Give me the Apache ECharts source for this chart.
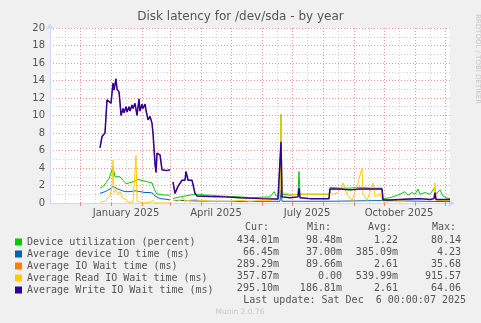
<!DOCTYPE html>
<html><head><meta charset="utf-8">
<script src="https://cdn.jsdelivr.net/npm/echarts@6/dist/echarts.min.js"></script>
<style>html,body{margin:0;padding:0;background:#f0f0f0}#c{width:481px;height:323px}</style>
</head><body><div id="c"></div>
<script>
// x values are days since 2024-11-01 (plot spans 400 days, ending 2025-12-06)
const seriesNames = ['Device utilization (percent)','Average device IO time (ms)','Average IO Wait time (ms)','Average Read IO Wait time (ms)','Average Write IO Wait time (ms)'];
const seriesColors = ['#00CC00','#0066B3','#FF8000','#FFCC00','#330099'];

const utilDays = [50,53,56,59,61,63,65,67,70,73,76,78,82,85,88,91,93,95,98,102,105,107,110,115,120,121,123,126,130,135,140,145,150,155,160,170,180,190,200,210,220,224,226,229,230,231,232,240,248,249,250,260,270,279,280,290,300,310,320,332,333,340,345,350,355,358,362,365,368,370,375,380,385,386,390,393,396,400];
const utilVals = [1.7,1.9,2.3,2.8,3.0,4.1,3.0,3.1,3.0,2.6,2.2,2.4,2.4,2.5,2.7,2.6,2.6,2.5,2.4,2.3,1.4,1.0,1.0,0.9,0.9,null,0.5,0.6,0.7,0.8,0.9,1.0,1.0,0.9,0.9,0.8,0.75,0.7,0.6,0.65,0.7,1.3,0.8,0.9,1.5,10.1,1.0,0.9,1.0,3.6,1.0,1.0,1.0,1.0,1.8,1.7,1.7,1.8,1.7,1.7,0.5,0.6,0.8,1.0,1.3,0.9,1.2,1.0,1.6,1.0,1.2,1.0,1.8,1.0,1.5,0.8,0.6,0.5];

const devDays = [50,55,60,63,66,70,75,80,85,90,95,100,103,105,107,110,115,120,121,123,130,140,160,200,230,231,232,280,281,332,333,400];
const devVals = [1.1,1.3,1.6,1.9,1.7,1.5,1.3,1.3,1.4,1.3,1.2,1.2,1.1,0.8,0.65,0.5,0.45,0.35,null,0.3,0.3,0.25,0.2,0.18,0.2,1.5,0.2,0.2,0.28,0.28,0.15,0.15];

const waitDays = [50,52,55,57,59,61,63,64,66,67,69,70,71,73,74,76,77,79,80,82,83,85,86,87,89,90,92,93,95,96,98,100,102,103,105,106,107,109,110,112,114,117,119,120,121,123,125,128,130,132,135,136,138,140,142,143,145,147,160,175,190,210,228,230,231,232,240,248,249,250,260,279,280,290,300,310,320,332,333,340,350,360,370,380,384,385,386,395,400];
const waitVals = [6.3,7.5,8.0,11.8,11.9,11.4,13.7,12.9,14.2,13.0,12.7,11.5,10.0,10.8,10.3,11.0,10.4,11.0,10.5,11.2,10.8,11.4,11.6,10.0,11.9,10.5,11.3,10.8,11.3,10.6,9.5,9.9,9.2,8.0,4.5,3.5,5.7,5.6,5.5,3.8,3.6,3.7,3.6,3.8,null,2.4,1.1,1.9,2.1,2.6,2.6,3.6,2.6,2.8,2.6,2.4,1.1,0.8,0.75,0.7,0.6,0.5,0.45,0.6,7.0,0.7,0.6,0.7,1.7,0.6,0.5,0.5,1.6,1.6,1.5,1.6,1.6,1.6,0.35,0.35,0.4,0.45,0.5,0.4,0.5,1.2,0.4,0.4,0.4];

const readDays = [50,55,60,62,63,64,66,68,70,72,74,76,78,80,83,85,86,87,90,92,95,100,103,105,110,120,121,123,125,127,130,133,135,138,140,145,150,160,170,180,190,200,210,220,225,228,230,231,232,240,248,249,250,260,270,279,280,283,288,292,293,297,302,307,312,313,317,322,323,325,330,333,336,340,350,360,370,380,384,385,386,395,400];
const readVals = [0.1,0.2,0.8,2.0,4.9,1.2,1.5,1.0,1.3,0.6,0.8,0.4,0.1,0.0,0.1,0.2,5.4,0.2,0.1,0.2,0.0,0.1,0.3,0.0,0.0,0.0,null,0.3,0.5,0.2,0.3,0.6,0.2,0.3,0.1,0.4,0.3,0.2,0.2,0.2,0.3,0.2,0.3,0.3,0.5,0.3,1.0,10.0,1.2,1.0,1.0,1.5,1.0,1.0,1.0,1.0,1.3,1.0,1.2,1.9,2.3,1.0,0.3,1.9,4.0,1.0,0.3,1.9,2.3,0.7,1.1,0.1,0.1,0.2,0.3,0.4,0.4,0.4,0.5,2.3,0.3,0.3,0.3];

const writeDays = waitDays;
const writeVals = [6.3,7.6,8.0,11.8,11.9,11.4,13.7,12.9,14.2,13.0,12.7,11.5,10.0,10.8,10.3,11.0,10.4,11.0,10.5,11.2,10.8,11.4,11.6,10.0,11.9,10.5,11.3,10.8,11.3,10.6,9.5,9.9,9.1,8.0,4.5,3.5,5.7,5.6,5.5,3.8,3.6,3.7,3.6,3.8,null,2.4,1.1,1.9,2.1,2.6,2.6,3.6,2.6,2.8,2.6,2.4,1.1,0.8,0.75,0.7,0.6,0.5,0.45,0.6,7.0,0.7,0.6,0.7,1.7,0.6,0.5,0.5,1.6,1.6,1.5,1.6,1.6,1.6,0.35,0.35,0.4,0.45,0.5,0.4,0.5,1.2,0.4,0.4,0.4];

const monthStarts = [30,61,92,120,151,181,212,242,273,304,334,365,395];
const midMonths = [15,45,76,107,134,166,196,227,257,288,319,349,380];
const labelDays = [76,166,257,349];
const labelTexts = ['January 2025','April 2025','July 2025','October 2025'];

const curVals = ['434.01m','66.45m','289.29m','357.87m','295.10m'];
const minVals = ['98.48m','37.00m','89.66m','0.00','186.81m'];
const avgVals = ['1.22','385.09m','2.61','539.99m','2.61'];
const maxVals = ['80.14','4.23','35.68','915.57','64.06'];
const lastUpdate = 'Last update: Sat Dec  6 00:00:07 2025';

const pairs = (d, v) => d.map((x, i) => [x, v[i]]);
const seriesData = [pairs(utilDays, utilVals), pairs(devDays, devVals), pairs(waitDays, waitVals), pairs(readDays, readVals), pairs(writeDays, writeVals)];

const mono = 'DejaVu Sans Mono';
const sans = 'DejaVu Sans';
const textCol = '#555';
const rowY = [240, 252, 264, 276, 288];
const graphics = [];
graphics.push({type:'text', left:'center', top:11, style:{text:'Disk latency for /dev/sda - by year', font:'12px "DejaVu Sans"', fill:'#555'}});
graphics.push({type:'text', x:474, y:14, rotation:-Math.PI/2, style:{text:'RRDTOOL / TOBI OETIKER', font:'7px "DejaVu Sans"', fill:'#c8c8c8', textAlign:'left', textVerticalAlign:'bottom'}});
[['Cur:',245],['Min:',307],['Avg:',368],['Max:',432]].forEach(([t,x]) => graphics.push({type:'text', x, y:227, style:{text:t, font:'10px "DejaVu Sans Mono"', fill:textCol, textVerticalAlign:'middle'}}));
[[curVals,279],[minVals,342],[avgVals,398],[maxVals,461]].forEach(([arr,x]) => arr.forEach((t,i) => graphics.push({type:'text', x, y:rowY[i], style:{text:t, font:'10px "DejaVu Sans Mono"', fill:textCol, textAlign:'right', textVerticalAlign:'middle'}})));
graphics.push({type:'text', x:466, y:300, style:{text:lastUpdate, font:'10px "DejaVu Sans Mono"', fill:textCol, textAlign:'right', textVerticalAlign:'middle'}});
graphics.push({type:'text', x:240, y:312, style:{text:'Munin 2.0.76', font:'7.5px "DejaVu Sans"', fill:'#c8c8c8', textAlign:'center', textVerticalAlign:'middle'}});

const chart = echarts.init(document.getElementById('c'), null, {renderer:'canvas'});
const lineSeries = seriesNames.map((n, i) => ({
  name:n, type:'line', data:seriesData[i], symbol:'none', connectNulls:false,
  lineStyle:{width: i === 4 ? 1.5 : 1, color:seriesColors[i]}, itemStyle:{color:seriesColors[i]}, z:3+i, animation:false
}));
lineSeries.unshift({
  name:'minorgrid', type:'line', data:[[0,0]], symbol:'none', lineStyle:{opacity:0}, z:1, silent:true, animation:false,
  markLine:{silent:true, symbol:['none','none'], label:{show:false}, animation:false,
    lineStyle:{color:'rgba(150,150,150,0.45)', type:[1,2], width:1},
    data: midMonths.map(d => ({xAxis:d}))}
}, {
  name:'grid', type:'line', data:[[0,0]], symbol:'none', lineStyle:{opacity:0}, z:2, silent:true, animation:false,
  markLine:{silent:true, symbol:['none','none'], label:{show:false}, animation:false,
    lineStyle:{color:'rgba(230,110,110,0.75)', type:[1,2], width:1},
    data: monthStarts.map(d => ({xAxis:d}))}
});
chart.setOption({
  backgroundColor:'#f0f0f0',
  animation:false,
  grid:{left:50, right:31, top:28, bottom:120, backgroundColor:'#fff', show:true, borderWidth:0},
  xAxis:{type:'value', min:0, max:400,
    axisLine:{show:true, lineStyle:{color:'#CFD6F8', width:1}, symbol:['none','arrow'], symbolSize:[6,7], symbolOffset:[0,5]},
    axisTick:{show:true, customValues:monthStarts, length:3, lineStyle:{color:'rgba(230,110,110,0.85)', width:1}},
    splitLine:{show:false},
    axisLabel:{customValues:labelDays, formatter:v => labelTexts[labelDays.indexOf(v)] || '', color:'#555', fontFamily:sans, fontSize:10, margin:5, showMinLabel:true, showMaxLabel:true}
  },
  yAxis:{type:'value', min:0, max:20, interval:2,
    axisLine:{show:true, lineStyle:{color:'#CFD6F8', width:1}, symbol:['none','arrow'], symbolSize:[6,7], symbolOffset:[0,5]},
    axisTick:{show:false},
    axisLabel:{color:'#555', fontFamily:sans, fontSize:10, margin:5},
    splitLine:{show:true, lineStyle:{color:'rgba(230,110,110,0.75)', type:[1,2], width:1}},
    minorTick:{show:false, splitNumber:2},
    minorSplitLine:{show:true, lineStyle:{color:'rgba(150,150,150,0.45)', type:[1,2], width:1}}
  },
  legend:{show:true, orient:'vertical', left:10, top:231, itemWidth:7, itemHeight:7, itemGap:0, icon:'rect',
    data:seriesNames, selectedMode:false,
    textStyle:{fontFamily:mono, fontSize:10, lineHeight:12, color:textCol}},
  series:lineSeries,
  graphic:graphics
});
</script></body></html>
